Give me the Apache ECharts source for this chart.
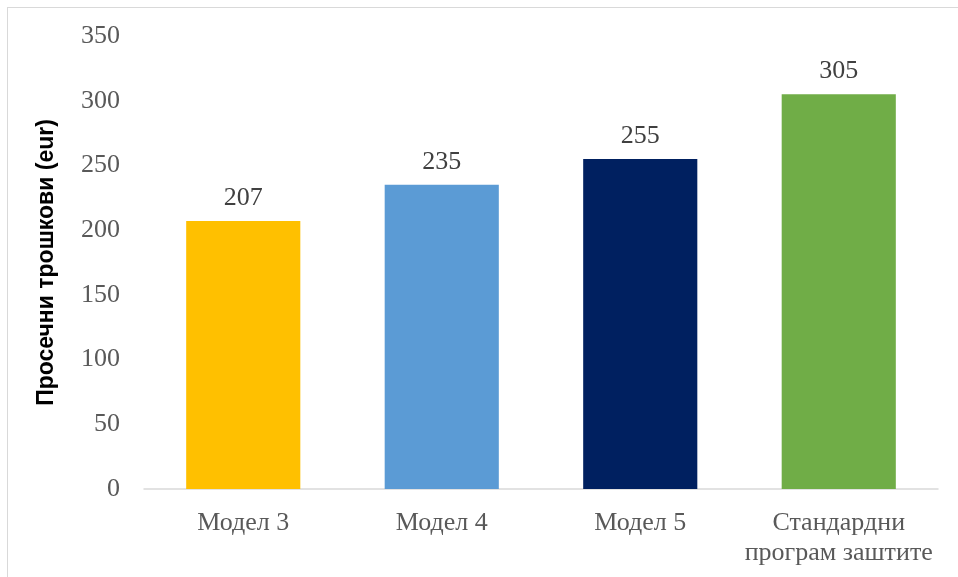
<!DOCTYPE html>
<html>
<head>
<meta charset="utf-8">
<script src="https://cdn.jsdelivr.net/npm/echarts@6/dist/echarts.min.js"></script>
<style>
  html, body { margin: 0; padding: 0; background: #fff; }
  #frame { position: absolute; left: 7px; top: 7px; width: 960px; height: 600px; border: 1px solid #d9d9d9; box-sizing: border-box; }
  #chart { position: absolute; left: 0; top: 0; width: 958px; height: 577px; }
</style>
</head>
<body>
<div id="frame"></div>
<div id="chart"></div>
<script>
// Average protection costs per programme
const categories = ['Модел 3', 'Модел 4', 'Модел 5', 'Стандардни\nпрограм заштите'];
const costs = [207, 235, 255, 305];
const barColors = ['#FFC000', '#5B9BD5', '#002060', '#70AD47'];
const yTicks = { min: 0, max: 350, interval: 50 };
const yTitle = 'Просечни трошкови (eur)';

const serif = '"Liberation Serif", "DejaVu Serif", serif';

const chart = echarts.init(document.getElementById('chart'), null, { renderer: 'canvas' });
chart.setOption({
  animation: false,
  grid: { left: 144, right: 20, top: 36, bottom: 88, containLabel: false },
  xAxis: {
    type: 'category',
    data: categories,
    axisLine: { lineStyle: { color: '#d9d9d9', width: 1.5 } },
    axisTick: { show: false },
    axisLabel: {
      color: '#595959', fontFamily: serif, fontSize: 26, margin: 19,
      lineHeight: 30, interval: 0
    }
  },
  yAxis: {
    type: 'value',
    min: yTicks.min, max: yTicks.max, interval: yTicks.interval,
    name: yTitle,
    nameLocation: 'middle',
    nameGap: 86,
    nameTextStyle: { color: '#000', fontFamily: '"Liberation Sans", Arial, sans-serif', fontWeight: 'bold', fontSize: 23 },
    axisLine: { show: false },
    axisTick: { show: false },
    splitLine: { show: false },
    axisLabel: { color: '#595959', fontFamily: serif, fontSize: 26, margin: 24 }
  },
  series: [{
    type: 'bar',
    data: costs.map((v, i) => ({ value: v, itemStyle: { color: barColors[i] } })),
    barWidth: '57.5%',
    label: {
      show: true, position: 'top', distance: 10,
      color: '#404040', fontFamily: serif, fontSize: 26
    }
  }]
});
</script>
</body>
</html>
